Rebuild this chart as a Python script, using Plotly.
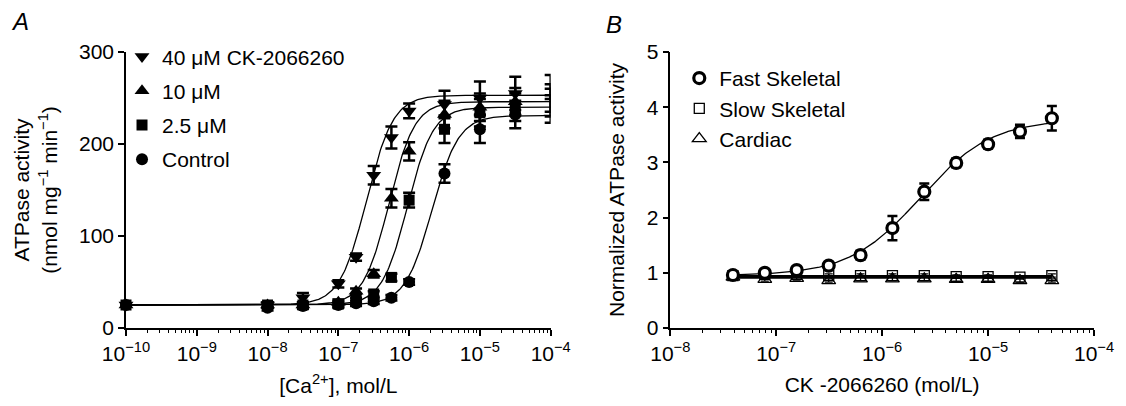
import numpy as np
import plotly.graph_objects as go

# ---------------- Panel A data ----------------
conc_A = [1e-10, 1e-8, 3.16e-8, 1e-7, 1.78e-7, 3.16e-7, 5.62e-7, 1e-6, 3.16e-6, 1e-5, 3.16e-5, 1e-4]
ck40 = [25, 25, 33, 48, 77, 166, 207, 236, 243, 250, 255, 262]
ck40_err = [2, 3, 5, 4, 4, 10, 12, 8, 15, 18, 18, 13]
ck10 = [25, 25, 25, 28, 40, 59, 141, 192, 232, 240, 246, 250]
ck10_err = [2, 3, 3, 3, 3, 4, 10, 10, 15, 15, 15, 15]
ck2_5 = [25, 25, 25, 26, 30, 37, 55, 139, 216, 234, 240, 245]
ck2_5_err = [2, 3, 3, 3, 3, 3, 4, 8, 15, 15, 15, 15]
control = [25, 22, 24, 25, 27, 29, 33, 50, 168, 216, 232, 238]
control_err = [2, 3, 3, 3, 3, 3, 3, 3, 10, 15, 15, 15]

# Hill-fit parameters: bottom, top, EC50, slope
fitA_bottom = [25, 25, 25, 25]
fitA_top = [253, 246, 240, 231]
fitA_ec50 = [2.5e-7, 5.2e-7, 9.5e-7, 2.1e-6]
fitA_hill = [2.3, 2.4, 2.4, 2.3]
namesA = ["40 μM CK-2066260", "10 μM", "2.5 μM", "Control"]
symbolsA = ["triangle-down", "triangle-up", "square", "circle"]

# ---------------- Panel B data ----------------
conc_B = [3.9e-8, 7.8e-8, 1.56e-7, 3.13e-7, 6.25e-7, 1.25e-6, 2.5e-6, 5e-6, 1e-5, 2e-5, 4e-5]
fast = [0.96, 1.0, 1.05, 1.13, 1.32, 1.81, 2.47, 2.99, 3.33, 3.56, 3.80]
fast_err = [0.04, 0.04, 0.05, 0.06, 0.08, 0.22, 0.15, 0.08, 0.08, 0.12, 0.22]
slow = [0.95, 0.97, 0.97, 0.95, 0.95, 0.95, 0.95, 0.93, 0.93, 0.92, 0.95]
slow_err = [0.03, 0.03, 0.03, 0.03, 0.03, 0.03, 0.03, 0.03, 0.03, 0.03, 0.03]
cardiac = [0.92, 0.88, 0.90, 0.86, 0.89, 0.89, 0.89, 0.88, 0.88, 0.86, 0.86]
cardiac_err = [0.03, 0.03, 0.03, 0.03, 0.03, 0.03, 0.03, 0.03, 0.03, 0.03, 0.03]
fitB_fast = dict(bottom=0.95, top=3.78, ec50=2.3e-6, hill=1.3)
fitB_slow_level = 0.94
fitB_cardiac_level = 0.91

FONT = "Liberation Sans, Arial, sans-serif"


def hill(x, b, t, ec, n):
    x = np.asarray(x)
    return b + (t - b) / (1.0 + (ec / x) ** n)


fig = go.Figure()

# fitted curves A
xs_A = np.logspace(-10, -4, 400)
for i in range(4):
    fig.add_trace(go.Scatter(
        x=xs_A, y=hill(xs_A, fitA_bottom[i], fitA_top[i], fitA_ec50[i], fitA_hill[i]),
        mode="lines", line=dict(color="black", width=1.3), showlegend=False,
        hoverinfo="skip", xaxis="x", yaxis="y"))

seriesA = [ck40, ck10, ck2_5, control]
errA = [ck40_err, ck10_err, ck2_5_err, control_err]
sizesA = [13, 13, 11, 12]
draw_order = [3, 1, 0, 2]  # squares drawn last so they sit on top
for i in draw_order:
    fig.add_trace(go.Scatter(
        x=conc_A, y=seriesA[i], mode="markers", name=namesA[i],
        marker=dict(symbol=symbolsA[i], size=sizesA[i], color="black"),
        error_y=dict(type="data", array=errA[i], color="black", thickness=2.5, width=6),
        legend="legend", legendrank=i + 1, legendgroup="a%d" % i,
        cliponaxis=False, xaxis="x", yaxis="y"))

# fitted curves B
xs_B = np.logspace(np.log10(conc_B[0]), np.log10(conc_B[-1]), 300)
fig.add_trace(go.Scatter(
    x=xs_B, y=hill(xs_B, fitB_fast["bottom"], fitB_fast["top"], fitB_fast["ec50"], fitB_fast["hill"]),
    mode="lines", line=dict(color="black", width=1.3), showlegend=False, hoverinfo="skip",
    xaxis="x2", yaxis="y2"))
for lvl in [fitB_slow_level, fitB_cardiac_level]:
    fig.add_trace(go.Scatter(
        x=[conc_B[0], conc_B[-1]], y=[lvl, lvl], mode="lines",
        line=dict(color="black", width=2), showlegend=False, hoverinfo="skip",
        xaxis="x2", yaxis="y2"))

fig.add_trace(go.Scatter(
    x=conc_B, y=cardiac, mode="markers", name="Cardiac",
    marker=dict(symbol="triangle-up-open", size=12, color="black", line=dict(width=1.3, color="black")),
    error_y=dict(type="data", array=cardiac_err, color="black", thickness=1.3, width=4),
    legend="legend2", legendrank=3, legendgroup="b3", cliponaxis=False, xaxis="x2", yaxis="y2"))
fig.add_trace(go.Scatter(
    x=conc_B, y=slow, mode="markers", name="Slow Skeletal",
    marker=dict(symbol="square-open", size=10, color="black", line=dict(width=1.3, color="black")),
    error_y=dict(type="data", array=slow_err, color="black", thickness=1.3, width=4),
    legend="legend2", legendrank=2, legendgroup="b2", cliponaxis=False, xaxis="x2", yaxis="y2"))
fig.add_trace(go.Scatter(
    x=conc_B, y=fast, mode="markers", name="Fast Skeletal",
    marker=dict(symbol="circle", size=11, color="white", line=dict(width=3.2, color="black")),
    error_y=dict(type="data", array=fast_err, color="black", thickness=2.5, width=5),
    legend="legend2", legendrank=1, legendgroup="b1", cliponaxis=False, xaxis="x2", yaxis="y2"))


def decade_ticks(lo, hi):
    vals = [10.0 ** k for k in range(lo, hi + 1)]
    text = ["10<sup>−%d</sup>" % (-k) for k in range(lo, hi + 1)]
    minor = [m * 10.0 ** k for k in range(lo, hi) for m in range(2, 10)]
    return vals, text, minor


tvA, ttA, mnA = decade_ticks(-10, -4)
tvB, ttB, mnB = decade_ticks(-8, -4)

axis_common = dict(showline=True, linecolor="black", linewidth=1.5, ticks="outside",
                   ticklen=6, tickwidth=1.5, tickcolor="black", showgrid=False, zeroline=False,
                   tickfont=dict(family=FONT, size=21, color="black"))

L, R, T, B = 126, 29, 52, 74
W = 1126 - L - R
H = 406 - T - B
domA = [0, (552 - L) / W]
domB = [(672 - L) / W, 1]


def px_x(p):
    return (p - L) / W


def px_y(p):
    return (406 - B - p) / H


fig.update_layout(
    width=1126, height=406, margin=dict(l=L, r=R, t=T, b=B),
    paper_bgcolor="white", plot_bgcolor="white",
    font=dict(family=FONT, size=21, color="black"),
    xaxis=dict(type="log", range=[-10, -4], domain=domA, anchor="y",
               tickvals=tvA, ticktext=ttA,
               minor=dict(tickvals=mnA, ticks="outside", ticklen=3.5, tickwidth=1.2, tickcolor="black"),
               title=dict(text="[Ca<sup>2+</sup>], mol/L", font=dict(size=21), standoff=14),
               **axis_common),
    yaxis=dict(range=[0, 300], domain=[0, 1], anchor="x", tickvals=[0, 100, 200, 300],
               title=dict(text="ATPase activity<br>(nmol mg<sup>−1</sup> min<sup>−1</sup>)",
                          font=dict(size=21), standoff=16),
               **axis_common),
    xaxis2=dict(type="log", range=[-8, -4], domain=domB, anchor="y2",
                tickvals=tvB, ticktext=ttB,
                minor=dict(tickvals=mnB, ticks="outside", ticklen=3.5, tickwidth=1.2, tickcolor="black"),
                title=dict(text="CK -2066260 (mol/L)", font=dict(size=21), standoff=13),
                **axis_common),
    yaxis2=dict(range=[0, 5], domain=[0, 1], anchor="x2", tickvals=[0, 1, 2, 3, 4, 5],
                title=dict(text="Normalized ATPase activity", font=dict(size=21), standoff=16),
                **axis_common),
    legend=dict(x=px_x(122), y=px_y(36), xanchor="left", yanchor="top",
                font=dict(family=FONT, size=21), bgcolor="rgba(0,0,0,0)",
                tracegroupgap=4, itemsizing="trace"),
    legend2=dict(x=px_x(681), y=px_y(58), xanchor="left", yanchor="top",
                 font=dict(family=FONT, size=21), bgcolor="rgba(0,0,0,0)",
                 tracegroupgap=0, itemsizing="trace"),
    annotations=[
        dict(text="<i>A</i>", x=px_x(9), y=px_y(21), xref="paper", yref="paper",
             xanchor="left", yanchor="middle", showarrow=False, font=dict(family=FONT, size=24)),
        dict(text="<i>B</i>", x=px_x(605), y=px_y(24), xref="paper", yref="paper",
             xanchor="left", yanchor="middle", showarrow=False, font=dict(family=FONT, size=24)),
    ],
)

fig.write_html("out.html", config={"displayModeBar": False},
               post_script="document.body.style.margin='0';")
